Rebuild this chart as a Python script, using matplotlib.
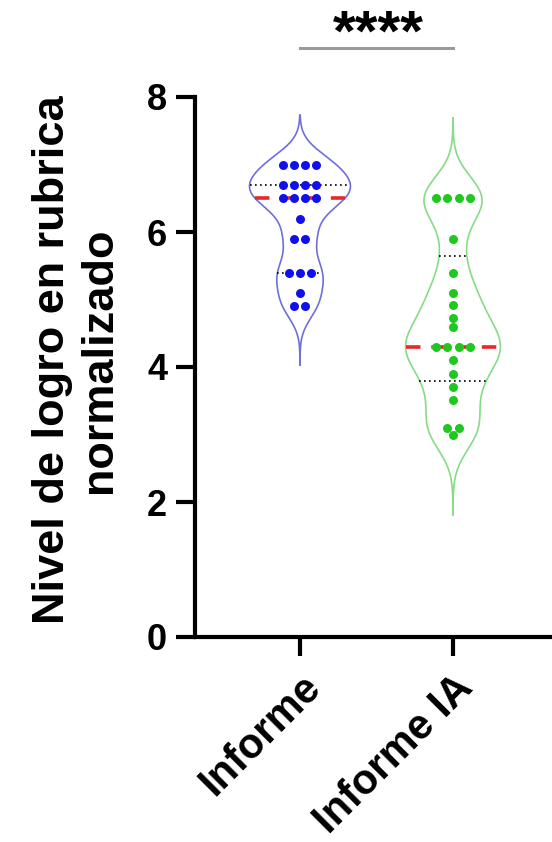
import numpy as np
import matplotlib
matplotlib.use("Agg")
import matplotlib.pyplot as plt

categories = ["Informe", "Informe IA"]
informe = [7.0]*4 + [6.7]*4 + [6.5]*4 + [6.2] + [5.9]*2 + [5.4]*3 + [5.1] + [4.9]*2
informe_ia = [6.5]*4 + [5.9, 5.4, 5.1, 4.92, 4.73, 4.6] + [4.3]*4 + [4.1, 3.9, 3.7, 3.51] + [3.1]*2 + [3.0]
violin_extent = [(4.03, 7.73), (1.81, 7.69)]
bandwidths = [0.24, 0.33]
half_widths = [0.33, 0.31]
yticks = [0, 2, 4, 6, 8]

dot_colors = ["#1010ee", "#1ec81e"]
line_colors = ["#6f6fdc", "#86dc86"]

plt.rcParams['font.family'] = ['Liberation Sans', 'DejaVu Sans']
plt.rcParams['font.weight'] = 'bold'

fig = plt.figure(figsize=(5.52, 8.42), dpi=100)
ax = fig.add_axes([195/552, 1-637/842, 1-195/552, (637-97)/842])

for i, data in enumerate([informe, informe_ia]):
    d = np.array(data)
    lo, hi = violin_extent[i]
    yy = np.linspace(lo, hi, 400)
    h = bandwidths[i]
    dens = np.exp(-0.5*((yy[:, None]-d[None, :])/h)**2).sum(axis=1)
    dens = dens - dens.min()
    w = dens/dens.max()*half_widths[i]
    ax.plot(i - w, yy, color=line_colors[i], lw=1.2, zorder=2)
    ax.plot(i + w, yy, color=line_colors[i], lw=1.2, zorder=2)
    # quartiles (Prism method)
    q1, med, q3 = np.percentile(d, [25, 50, 75], method='weibull')
    for q, style, col, lw in [(q1, (0, (1, 2)), 'black', 1.2), (q3, (0, (1, 2)), 'black', 1.2),
                              (med, (0, (4, 3)), '#e8262e', 2.6)]:
        wq = np.interp(q, yy, w)
        ax.plot([i - wq, i + wq], [q, q], color=col, lw=lw, linestyle=style, zorder=3)
    # dots
    vals, counts = np.unique(d, return_counts=True)
    spacing = 0.072
    xs, ys = [], []
    for v, c in zip(vals, counts):
        for k in range(c):
            xs.append(i + spacing*(k - (c-1)/2))
            ys.append(v)
    ax.scatter(xs, ys, s=42, color=dot_colors[i], zorder=4, linewidths=0)

ax.set_xlim(-0.686, 1.647)
ax.set_ylim(0, 8)
ax.set_yticks(yticks)
ax.set_xticks([0, 1])
ax.set_xticklabels(categories, rotation=45, ha='right', va='top', rotation_mode='anchor', fontsize=30, fontweight='bold')
ax.tick_params(axis='y', labelsize=26, length=14, width=3, pad=6)
ax.tick_params(axis='x', length=14, width=3, pad=8)
for s in ['top', 'right']:
    ax.spines[s].set_visible(False)
for s in ['left', 'bottom']:
    ax.spines[s].set_linewidth(3)

fig.text(76/552, 1-360/842, "Nivel de logro en rubrica\nnormalizado", rotation=90,
         ha='center', va='center', multialignment='center', fontsize=32.5, fontweight='bold')

# significance bar
ax.plot([0, 1], [8.73, 8.73], color='#9a9a9a', lw=2.2, clip_on=False)
ax.text(0.51, 8.69, "****", ha='center', va='baseline', fontsize=42, fontweight='bold')

fig.savefig("out.png", dpi=100)
